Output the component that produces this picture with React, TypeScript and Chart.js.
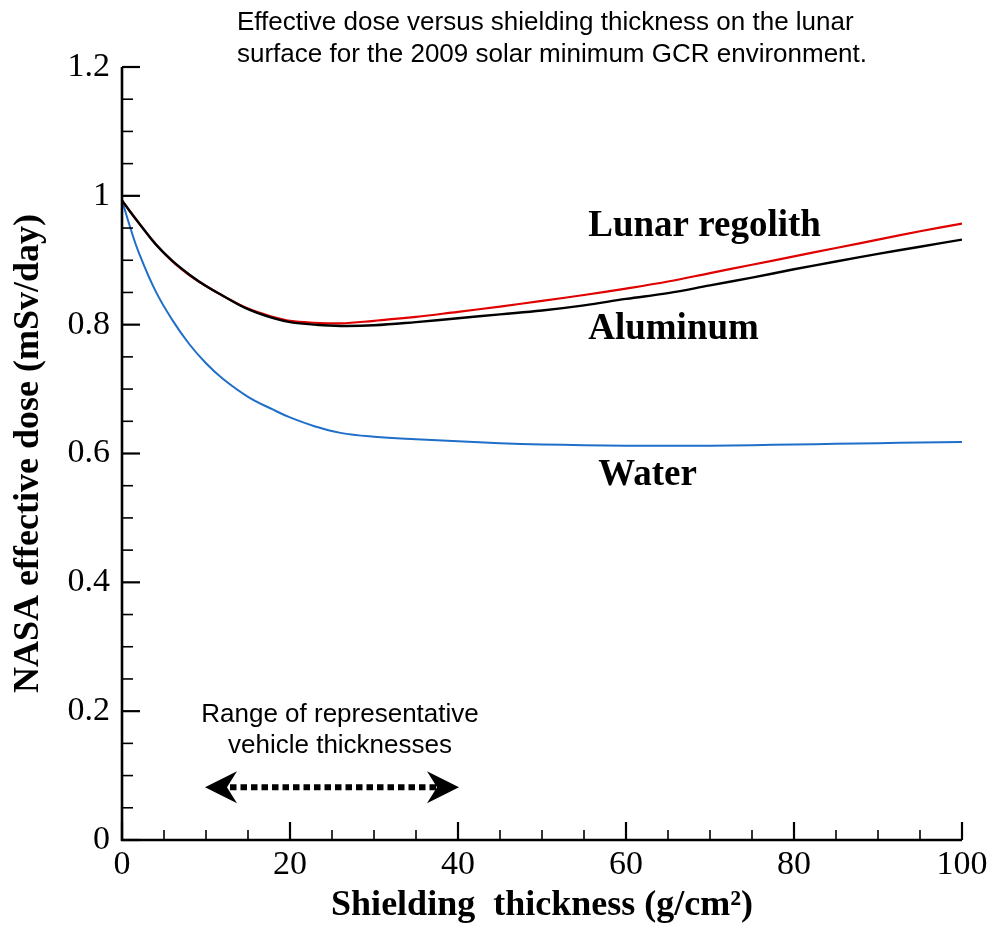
import React, { useEffect, useRef } from "react";
import { Chart, registerables } from "chart.js";

Chart.register(...registerables);

// Shielding thickness (g/cm^2)
const thickness = [0, 1, 2, 4, 6, 8, 10, 12, 15, 18, 20, 23, 26, 30, 35, 40, 45, 50, 55, 60, 65, 70, 75, 80, 85, 90, 95, 100];
// NASA effective dose (mSv/day)
const lunarRegolith = [0.993, 0.975, 0.958, 0.925, 0.898, 0.877, 0.860, 0.845, 0.825, 0.812, 0.806, 0.803, 0.802, 0.806, 0.812, 0.820, 0.828, 0.837, 0.846, 0.856, 0.867, 0.880, 0.893, 0.906, 0.919, 0.932, 0.945, 0.957];
const aluminum = [0.993, 0.975, 0.958, 0.925, 0.899, 0.878, 0.860, 0.845, 0.824, 0.810, 0.804, 0.800, 0.798, 0.799, 0.804, 0.810, 0.816, 0.822, 0.830, 0.840, 0.849, 0.861, 0.873, 0.886, 0.898, 0.910, 0.921, 0.932];
const water = [0.993, 0.950, 0.912, 0.852, 0.807, 0.770, 0.740, 0.716, 0.688, 0.668, 0.656, 0.642, 0.632, 0.626, 0.622, 0.619, 0.616, 0.614, 0.613, 0.612, 0.612, 0.612, 0.613, 0.614, 0.615, 0.616, 0.617, 0.618];

const seriesNames = ["Lunar regolith", "Aluminum", "Water"];
const seriesColors = ["#e00000", "#000000", "#1f6fc8"];

// Labels placed in data coordinates [x, y] (left, baseline)
const seriesLabelPos = [[55.5, 0.938], [55.5, 0.777], [56.7, 0.551]];

const titleLines = [
  "Effective dose versus shielding thickness on the lunar",
  "surface for the 2009 solar minimum GCR environment.",
];
const rangeText = ["Range of representative", "vehicle thicknesses"];
const rangeStart = 10;
const rangeEnd = 40;
const rangeArrowY = 0.082;

const xMajor = [0, 20, 40, 60, 80, 100];
const yMajor = [0, 0.2, 0.4, 0.6, 0.8, 1.0, 1.2];

export default function App() {
  const ref = useRef<HTMLCanvasElement | null>(null);

  useEffect(() => {
    if (!ref.current) return;
    const toPts = (ys: number[]) => thickness.map((x, i) => ({ x, y: ys[i] }));

    const decor = {
      id: "decor",
      afterDraw(chart: any) {
        const ctx = chart.ctx;
        const xs = chart.scales.x;
        const ys = chart.scales.y;
        const left = xs.left;
        const bottom = ys.bottom;
        ctx.save();
        ctx.strokeStyle = "#000";
        for (let k = 0; k <= 20; k++) {
          const v = k * 5;
          const px = xs.getPixelForValue(v);
          const major = k % 4 === 0;
          ctx.lineWidth = major ? 2.2 : 1.6;
          ctx.beginPath();
          ctx.moveTo(px, bottom);
          ctx.lineTo(px, bottom - (major ? 18 : 10));
          ctx.stroke();
        }
        for (let k = 0; k <= 24; k++) {
          const v = k * 0.05;
          const py = ys.getPixelForValue(v);
          const major = k % 4 === 0;
          ctx.lineWidth = major ? 2.2 : 1.6;
          ctx.beginPath();
          ctx.moveTo(left, py);
          ctx.lineTo(left + (major ? 18 : 11), py);
          ctx.stroke();
        }
        ctx.lineWidth = 2.6;
        ctx.beginPath();
        ctx.moveTo(left, ys.top);
        ctx.lineTo(left, bottom);
        ctx.lineTo(xs.right, bottom);
        ctx.stroke();

        ctx.fillStyle = "#000";
        ctx.font = "26px 'Liberation Sans', Arial, sans-serif";
        ctx.textAlign = "left";
        ctx.textBaseline = "alphabetic";
        ctx.fillText(titleLines[0], 237, 30);
        ctx.fillText(titleLines[1], 237, 62);

        ctx.font = "bold 37px 'Liberation Serif', 'Times New Roman', serif";
        seriesNames.forEach((n, i) => {
          ctx.fillText(n, xs.getPixelForValue(seriesLabelPos[i][0]), ys.getPixelForValue(seriesLabelPos[i][1]));
        });

        const x0 = xs.getPixelForValue(rangeStart);
        const x1 = xs.getPixelForValue(rangeEnd);
        const cx = (x0 + x1) / 2 + 8;
        ctx.font = "26px 'Liberation Sans', Arial, sans-serif";
        ctx.textAlign = "center";
        ctx.fillText(rangeText[0], cx, 722);
        ctx.fillText(rangeText[1], cx, 753);

        const ay = ys.getPixelForValue(rangeArrowY);
        ctx.lineWidth = 6;
        ctx.setLineDash([6.5, 4]);
        ctx.beginPath();
        ctx.moveTo(x0 + 24, ay);
        ctx.lineTo(x1 - 22, ay);
        ctx.stroke();
        ctx.setLineDash([]);
        const head = (tip: number, dir: number) => {
          ctx.beginPath();
          ctx.moveTo(tip, ay);
          ctx.lineTo(tip + dir * 32, ay - 16);
          ctx.lineTo(tip + dir * 22, ay);
          ctx.lineTo(tip + dir * 32, ay + 16);
          ctx.closePath();
          ctx.fill();
        };
        head(x0 - 1, 1);
        head(x1 + 1, -1);
        ctx.restore();
      },
    };

    const chart = new Chart(ref.current, {
      type: "line",
      data: {
        datasets: [
          { label: seriesNames[1], data: toPts(aluminum), borderColor: seriesColors[1], borderWidth: 2.4, pointRadius: 0, tension: 0.4 },
          { label: seriesNames[0], data: toPts(lunarRegolith), borderColor: seriesColors[0], borderWidth: 2.2, pointRadius: 0, tension: 0.4 },
          { label: seriesNames[2], data: toPts(water), borderColor: seriesColors[2], borderWidth: 2, pointRadius: 0, tension: 0.4 },
        ],
      },
      options: {
        responsive: false,
        animation: false,
        layout: { padding: { left: 0, top: 67, right: 32, bottom: 0 } },
        plugins: { legend: { display: false }, tooltip: { enabled: false } },
        scales: {
          x: {
            type: "linear",
            min: 0,
            max: 100,
            afterFit: (s: any) => { s.height = 86; },
            afterBuildTicks: (s: any) => { s.ticks = xMajor.map((v) => ({ value: v })); },
            grid: { display: false, drawTicks: false },
            border: { display: false },
            ticks: {
              color: "#000",
              padding: 5,
              maxRotation: 0,
              font: { family: "'Liberation Serif', 'Times New Roman', serif", size: 34 },
            },
            title: {
              display: true,
              text: "Shielding  thickness (g/cm²)",
              color: "#000",
              padding: { top: 0, bottom: 2 },
              font: { family: "'Liberation Serif', 'Times New Roman', serif", size: 36, weight: "bold", lineHeight: 1 },
            },
          },
          y: {
            type: "linear",
            min: 0,
            max: 1.2,
            afterFit: (s: any) => { s.width = 122; },
            afterBuildTicks: (s: any) => { s.ticks = yMajor.map((v) => ({ value: v })); },
            grid: { display: false, drawTicks: false },
            border: { display: false },
            ticks: {
              color: "#000",
              padding: 12,
              callback: (v: any) => String(Math.round(Number(v) * 10) / 10),
              font: { family: "'Liberation Serif', 'Times New Roman', serif", size: 34 },
            },
            title: {
              display: true,
              text: "NASA effective dose (mSv/day)",
              color: "#000",
              padding: { top: 11, bottom: 0 },
              font: { family: "'Liberation Serif', 'Times New Roman', serif", size: 36, weight: "bold", lineHeight: 1 },
            },
          },
        },
      },
      plugins: [decor],
    });
    return () => chart.destroy();
  }, []);

  return (
    <div style={{ position: "absolute", left: 0, top: 0, width: 994, height: 926, background: "#fff" }}>
      <canvas ref={ref} width={994} height={926} style={{ display: "block" }} />
    </div>
  );
}
